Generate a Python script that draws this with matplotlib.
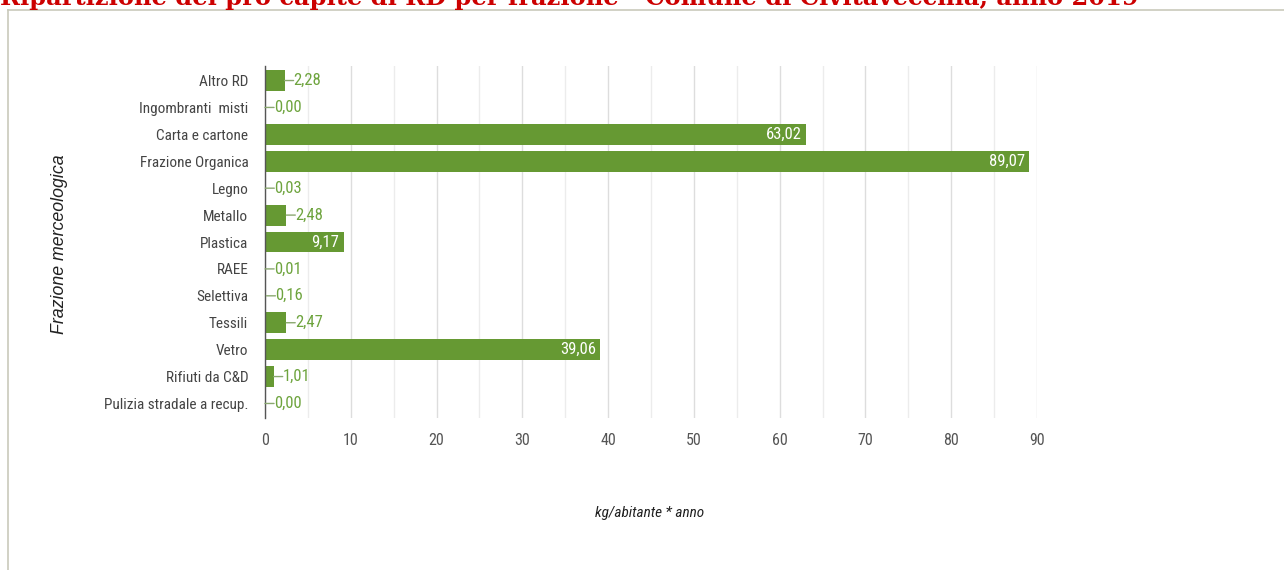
import matplotlib
matplotlib.use("Agg")
import matplotlib.pyplot as plt
from matplotlib import font_manager
from matplotlib.lines import Line2D
from matplotlib.ticker import MultipleLocator

categories = ["Altro RD", "Ingombranti  misti", "Carta e cartone", "Frazione Organica",
              "Legno", "Metallo", "Plastica", "RAEE", "Selettiva", "Tessili", "Vetro",
              "Rifiuti da C&D", "Pulizia stradale a recup."]
values = [2.28, 0.00, 63.02, 89.07, 0.03, 2.48, 9.17, 0.01, 0.16, 2.47, 39.06, 1.01, 0.00]
x_ticks = [0, 10, 20, 30, 40, 50, 60, 70, 80, 90]

title = "Ripartizione del pro capite di RD per frazione - Comune di Civitavecchia, anno 2019"
ylabel = "Frazione merceologica"
xlabel = "kg/abitante * anno"

avail = {f.name for f in font_manager.fontManager.ttflist}
narrow = [f for f in ["Roboto Condensed", "Liberation Sans Narrow", "Arial Narrow"] if f in avail]
fam = narrow + ["Liberation Sans", "DejaVu Sans"]

bar_color = "#669933"
label_green = "#6ea43e"

fig = plt.figure(figsize=(12.84, 5.70), dpi=100)
ax = fig.add_axes([265/1284, 1-418/570, 772/1284, (418-66)/570])

ypos = list(range(len(categories)))
ax.barh(ypos, values, height=0.78, color=bar_color, zorder=3)
ax.set_xlim(0, 90)
ax.set_ylim(12.54, -0.54)
ax.set_yticks(ypos)
ax.set_yticklabels(categories, fontfamily=fam, fontsize=11, color="#444444")
ax.set_xticks(x_ticks)
ax.set_xticklabels([str(t) for t in x_ticks], fontfamily=fam, fontsize=11.5, color="#555555")
ax.xaxis.set_minor_locator(MultipleLocator(5))
ax.tick_params(axis="both", length=0, which="both")
ax.tick_params(axis="y", pad=12)
ax.tick_params(axis="x", pad=11)
ax.grid(axis="x", which="major", color="#dddddd", linewidth=1, zorder=0)
ax.grid(axis="x", which="minor", color="#ececec", linewidth=1, zorder=0)
for s in ["top", "right", "bottom"]:
    ax.spines[s].set_visible(False)
ax.spines["left"].set_color("#555555")
ax.spines["left"].set_linewidth(1)
ax.spines["left"].set_zorder(4)

for y, v in zip(ypos, values):
    txt = f"{v:.2f}".replace(".", ",")
    if v > 5:
        ax.annotate(txt, xy=(v, y), xytext=(-3, 0), textcoords="offset points",
                    ha="right", va="center", color="white", fontsize=12,
                    fontfamily=fam, zorder=5)
    else:
        ax.annotate(txt, xy=(v, y), xytext=(6.5, 0), textcoords="offset points",
                    ha="left", va="center", color=label_green, fontsize=12,
                    fontfamily=fam, zorder=5,
                    arrowprops=dict(arrowstyle="-", color="#8aa870", lw=1,
                                    shrinkA=0, shrinkB=0, patchA=None,
                                    relpos=(0, 0.5)))

fig.text(59/1284, 1-244/570, ylabel, rotation=90, ha="center", va="center",
         fontsize=12.8, style="italic", color="#222222",
         fontfamily=["Liberation Sans", "DejaVu Sans"])

fig.text(650/1284, 1-513/570, xlabel, ha="center", va="center", fontsize=11,
         style="italic", color="#222222", fontfamily=fam)

# frame of the page
fig.add_artist(Line2D([8/1284, 8/1284], [0, 1-10/570], color="#c9c9bb", lw=1.2))
fig.add_artist(Line2D([8/1284, 1], [1-10/570, 1-10/570], color="#c9c9bb", lw=1.2))

# title (clipped at top of the image, as in the source)
fig.text(0/1284, 1-5/570, title, ha="left", va="baseline", fontsize=17.4,
         fontweight="bold", color="#cc0000", fontfamily=["DejaVu Serif"])

fig.savefig("out.png", dpi=100)
